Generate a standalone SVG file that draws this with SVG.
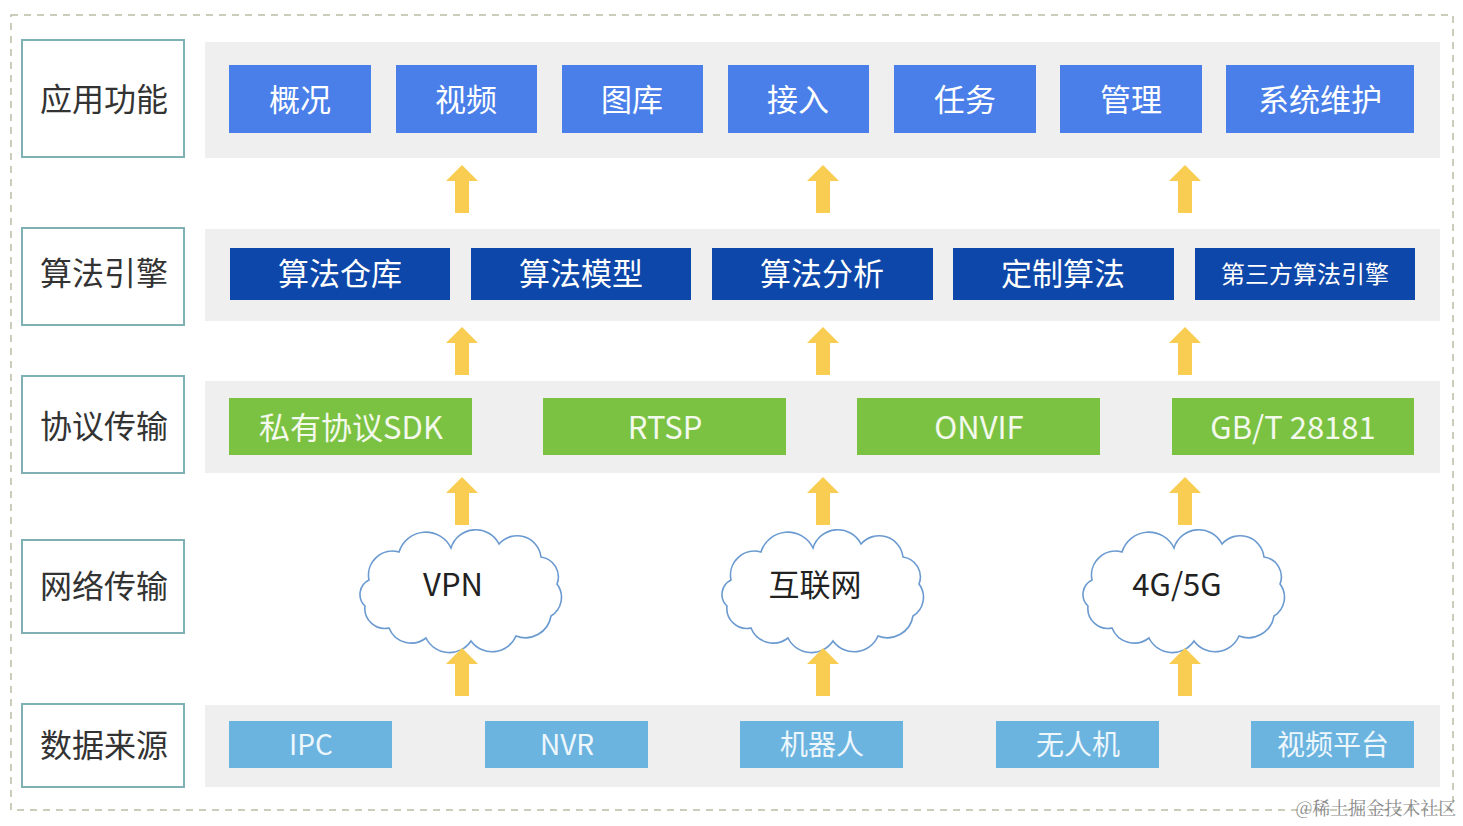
<svg xmlns="http://www.w3.org/2000/svg" xmlns:xlink="http://www.w3.org/1999/xlink" width="1463" height="826" viewBox="0 0 1463 826">
<style>
text{font-family:"Noto Sans CJK SC","Source Han Sans SC","Noto Sans",sans-serif;text-anchor:middle;dominant-baseline:central}
.lbl{fill:#fff;stroke:#7fb1b4;stroke-width:2}
.lt{font-size:32px;fill:#333}
.band{fill:#efefef}
.b1{fill:#4a7fea}
.b2{fill:#0d47a9}
.b3{fill:#7cc242}
.b5{fill:#6cb4e0}
.w{fill:#fff;font-size:31px}
.w3{fill:#f3f9ec;font-size:31px}
.w5{fill:#eef7fc;font-size:28px}
.cl{fill:#fff;stroke:#6a9ad0;stroke-width:1.6}
.ct{font-size:31px;fill:#222}
.arr{fill:#f8cd52}
</style>
<defs>
<path id="cloud" d="M-92,-8 A24,24 0 0 1 -62,-36 A28,28 0 0 1 -10,-40 A26,26 0 0 1 38,-44 A24,24 0 0 1 80,-31 A20,20 0 0 1 96,-4 A22,22 0 0 1 90,28 A26,26 0 0 1 55,48 A26,26 0 0 1 10,53 A26,26 0 0 1 -35,50 A24,24 0 0 1 -72,40 A20,20 0 0 1 -96,18 A16,16 0 0 1 -92,-8 Z"/>
<path id="arrow" d="M-7,48 L-7,16 L-16,16 L0,0 L16,16 L7,16 L7,48 Z"/>
</defs>
<rect x="11" y="15" width="1442" height="795" fill="none" stroke="#bcbca4" stroke-width="1.5" stroke-dasharray="7,6"/>
<g id="bands">
<rect class="band" x="205" y="42" width="1235" height="116"/>
<rect class="band" x="205" y="229" width="1235" height="92"/>
<rect class="band" x="205" y="381" width="1235" height="92"/>
<rect class="band" x="205" y="705" width="1235" height="82"/>
</g>
<g id="label-app"><rect class="lbl" x="22" y="40" width="162" height="117"/><text class="lt" x="104" y="97">应用功能</text></g>
<g id="label-algo"><rect class="lbl" x="22" y="228" width="162" height="97"/><text class="lt" x="104" y="271">算法引擎</text></g>
<g id="label-proto"><rect class="lbl" x="22" y="376" width="162" height="97"/><text class="lt" x="104" y="424">协议传输</text></g>
<g id="label-net"><rect class="lbl" x="22" y="540" width="162" height="93"/><text class="lt" x="104" y="584">网络传输</text></g>
<g id="label-data"><rect class="lbl" x="22" y="704" width="162" height="83"/><text class="lt" x="104" y="743">数据来源</text></g>

<g id="app-overview"><rect class="b1" x="229" y="65" width="142" height="68"/><text class="w" x="300" y="97">概况</text></g>
<g id="app-video"><rect class="b1" x="396" y="65" width="141" height="68"/><text class="w" x="466" y="97">视频</text></g>
<g id="app-gallery"><rect class="b1" x="562" y="65" width="141" height="68"/><text class="w" x="632" y="97">图库</text></g>
<g id="app-access"><rect class="b1" x="728" y="65" width="141" height="68"/><text class="w" x="798" y="97">接入</text></g>
<g id="app-task"><rect class="b1" x="894" y="65" width="142" height="68"/><text class="w" x="965" y="97">任务</text></g>
<g id="app-manage"><rect class="b1" x="1060" y="65" width="142" height="68"/><text class="w" x="1131" y="97">管理</text></g>
<g id="app-maint"><rect class="b1" x="1226" y="65" width="188" height="68"/><text class="w" x="1320" y="97">系统维护</text></g>

<g id="algo-repo"><rect class="b2" x="230" y="248" width="220" height="52"/><text class="w" x="340" y="271">算法仓库</text></g>
<g id="algo-model"><rect class="b2" x="471" y="248" width="220" height="52"/><text class="w" x="581" y="271">算法模型</text></g>
<g id="algo-analysis"><rect class="b2" x="712" y="248" width="221" height="52"/><text class="w" x="822" y="271">算法分析</text></g>
<g id="algo-custom"><rect class="b2" x="953" y="248" width="221" height="52"/><text class="w" x="1063" y="271">定制算法</text></g>
<g id="algo-third"><rect class="b2" x="1195" y="248" width="220" height="52"/><text class="w" x="1305" y="272" style="font-size:24px">第三方算法引擎</text></g>

<g id="proto-sdk"><rect class="b3" x="229" y="398" width="243" height="57"/><text class="w3" x="351" y="425">私有协议SDK</text></g>
<g id="proto-rtsp"><rect class="b3" x="543" y="398" width="243" height="57"/><text class="w3" x="665" y="425">RTSP</text></g>
<g id="proto-onvif"><rect class="b3" x="857" y="398" width="243" height="57"/><text class="w3" x="979" y="425">ONVIF</text></g>
<g id="proto-gb"><rect class="b3" x="1172" y="398" width="242" height="57"/><text class="w3" x="1293" y="425">GB/T 28181</text></g>

<g id="net-vpn"><use xlink:href="#cloud" href="#cloud" class="cl" transform="translate(461,588)"/><text class="ct" x="453" y="582">VPN</text></g>
<g id="net-internet"><use xlink:href="#cloud" href="#cloud" class="cl" transform="translate(823,588)"/><text class="ct" x="815" y="582">互联网</text></g>
<g id="net-4g5g"><use xlink:href="#cloud" href="#cloud" class="cl" transform="translate(1184,588)"/><text class="ct" x="1177" y="582">4G/5G</text></g>

<g id="src-ipc"><rect class="b5" x="229" y="721" width="163" height="47"/><text class="w5" x="311" y="743">IPC</text></g>
<g id="src-nvr"><rect class="b5" x="485" y="721" width="163" height="47"/><text class="w5" x="567" y="743">NVR</text></g>
<g id="src-robot"><rect class="b5" x="740" y="721" width="163" height="47"/><text class="w5" x="822" y="743">机器人</text></g>
<g id="src-drone"><rect class="b5" x="996" y="721" width="163" height="47"/><text class="w5" x="1078" y="743">无人机</text></g>
<g id="src-platform"><rect class="b5" x="1251" y="721" width="163" height="47"/><text class="w5" x="1333" y="743">视频平台</text></g>

<g id="connectors">
<use href="#arrow" class="arr" transform="translate(462,165)"/>
<use href="#arrow" class="arr" transform="translate(823,165)"/>
<use href="#arrow" class="arr" transform="translate(1185,165)"/>
<use href="#arrow" class="arr" transform="translate(462,327)"/>
<use href="#arrow" class="arr" transform="translate(823,327)"/>
<use href="#arrow" class="arr" transform="translate(1185,327)"/>
<use href="#arrow" class="arr" transform="translate(462,477)"/>
<use href="#arrow" class="arr" transform="translate(823,477)"/>
<use href="#arrow" class="arr" transform="translate(1185,477)"/>
<use href="#arrow" class="arr" transform="translate(462,648)"/>
<use href="#arrow" class="arr" transform="translate(823,648)"/>
<use href="#arrow" class="arr" transform="translate(1185,648)"/>
</g>
<text x="1376" y="807" style="font-family:'Noto Serif CJK SC','Noto Sans CJK SC',serif;font-size:18px;fill:#8a8a8a">@稀土掘金技术社区</text>
</svg>
